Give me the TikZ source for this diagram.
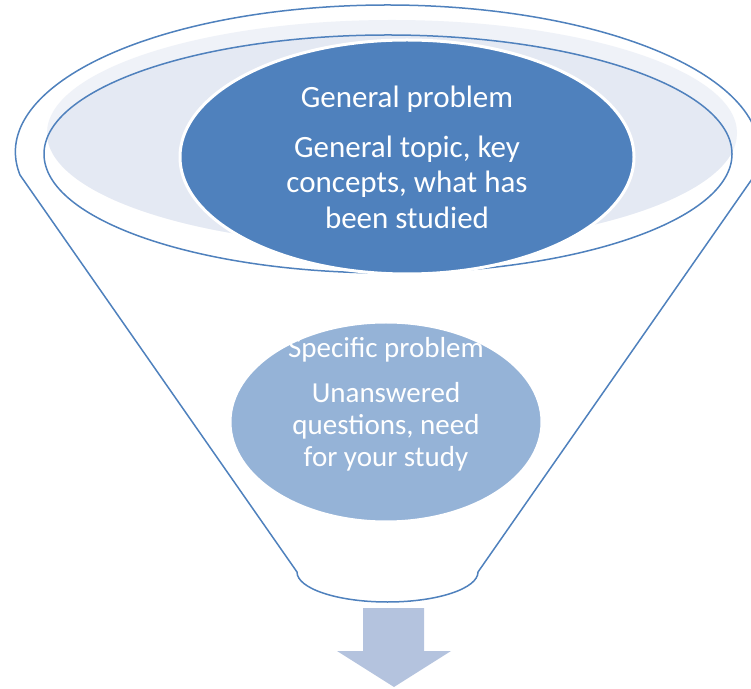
\documentclass[tikz,border=0pt]{standalone}
\usepackage{fontspec}
\setmainfont{Carlito}
\usetikzlibrary{shapes.geometric}
\definecolor{accent}{HTML}{4F81BD}
\definecolor{accentmid}{HTML}{95B3D7}
\definecolor{accentpale}{HTML}{E4E9F3}
\definecolor{accentpaler}{HTML}{EFF2F8}
\definecolor{arrowblue}{HTML}{B4C3DE}

\begin{document}
\begin{tikzpicture} [x = 1pt, y = 1pt, line width = 1.5pt,
  blob/.style = {ellipse, draw = white, line width = 3pt, inner sep = 0pt, text = white, align = center}]
\useasboundingbox (0,0) rectangle (751,688);
% funnel body
\draw[accent, fill = white] (20,513) arc[start angle = 189, end angle = -9, x radius = 372, y radius = 147]
  -- (478,116) arc[start angle = 0, end angle = -180, x radius = 90.5, y radius = 30] -- cycle;
% mouth of the funnel
\fill[accentpaler] (392,555) ellipse[x radius = 345, y radius = 113];
\begin{scope}
\clip (392,555) ellipse[x radius = 345, y radius = 113];
\fill[accentpale] (388,534) ellipse[x radius = 344, y radius = 119];
\end{scope}
\draw[accent] (388,534) ellipse[x radius = 344, y radius = 119];
\node[blob, fill = accent, minimum width = 454, minimum height = 234, font = \fontsize{31}{35.5}\selectfont] (gen) at (407,531)
  {General problem\\[14.5pt]General topic, key\\concepts, what has\\been studied};
\node[blob, fill = accentmid, minimum width = 312, minimum height = 200] (spec) at (386,266) {};
\node[text = white, align = center, font = \fontsize{29}{32}\selectfont] (spectxt) at (386,284)
  {Specific problem\\[13pt]Unanswered\\questions, need\\for your study};
% arrow out of the funnel
\fill[arrowblue] (363,80) -- (424,80) -- (424,37) -- (451,37) -- (394,1) -- (337,37) -- (363,37) -- cycle;
\end{tikzpicture}
\end{document}
